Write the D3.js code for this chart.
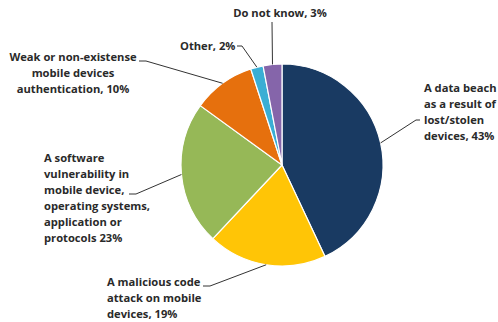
<!DOCTYPE html>
<meta charset="utf-8">
<script src="https://cdn.jsdelivr.net/npm/d3@7"></script>
<head>
<style>
    body { margin: 0; background: #fff; }
    text { font-family: "Open Sans", sans-serif; font-weight: 700; font-size: 11.2px; fill: #2a2a2a; }
</style>
</head>
<body>
<script>

    // slices, clockwise from 12 o'clock
    var categories = ["A data beach as a result of lost/stolen devices",
                      "A malicious code attack on mobile devices",
                      "A software vulnerability in mobile device, operating systems, application or protocols",
                      "Weak or non-existense mobile devices authentication",
                      "Other",
                      "Do not know"];
    var values = [43, 19, 23, 10, 2, 3];
    var colors = ["#193a62", "#ffc506", "#96b857", "#e6700d", "#3aaed4", "#8565aa"];

    // label text as it is wrapped in the picture
    var labelLines = [
        ["A data beach", "as a result of", "lost/stolen", "devices, 43%"],
        ["A malicious code", "attack on mobile", "devices, 19%"],
        ["A software", "vulnerability in", "mobile device,", "operating systems,", "application or", "protocols 23%"],
        ["Weak or non-existense", "mobile devices", "authentication, 10%"],
        ["Other, 2%"],
        ["Do not know, 3%"]
    ];

    var width = 498, height = 322;
    var cx = 282, cy = 165, radius = 101;
    var lineH = 16;

    // label layout: text origin, alignment, and where the leader leaves the text
    var labelLayout = [
        {x: 424, y: 92,  anchor: "start",  lead: [[416, 120], [420, 120]]},
        {x: 107, y: 286, anchor: "start",  lead: [[210, 286], [203, 286]]},
        {x: 44,  y: 162, anchor: "start",  lead: [[136, 194], [129, 194]]},
        {x: 73,  y: 61,  anchor: "middle", lead: [[146, 61], [139, 61]]},
        {x: 180, y: 50,  anchor: "start",  lead: [[242, 46], [237, 46]]},
        {x: 280, y: 17,  anchor: "middle", lead: [[272, 22]]}
    ];

    var svg = d3.select("body").append("svg")
        .attr("width", width)
        .attr("height", height);

    var pie = d3.pie().sort(null).value(function(d) { return d; });
    var arcs = pie(values);

    var arc = d3.arc().innerRadius(0).outerRadius(radius);

    var g = svg.append("g")
        .attr("transform", "translate(" + cx + "," + cy + ")");

    g.selectAll(".slice")
        .data(arcs)
        .enter()
        .append("path")
        .attr("class", "slice")
        .attr("d", arc)
        .style("fill", function(d, i) { return colors[i]; })
        .style("stroke", "#fff")
        .style("stroke-width", 1.2);

    // leader lines: from the slice's mid-angle on the rim to the label
    var line = d3.line();
    svg.selectAll(".leader")
        .data(arcs)
        .enter()
        .append("path")
        .attr("class", "leader")
        .attr("d", function(d, i) {
            var a = (d.startAngle + d.endAngle) / 2;
            var rim = [cx + Math.sin(a) * radius, cy - Math.cos(a) * radius];
            return line([rim].concat(labelLayout[i].lead));
        })
        .style("fill", "none")
        .style("stroke", "#333")
        .style("stroke-width", 1);

    var labels = svg.selectAll(".label")
        .data(labelLines)
        .enter()
        .append("text")
        .attr("class", "label")
        .attr("text-anchor", function(d, i) { return labelLayout[i].anchor; });

    labels.selectAll("tspan")
        .data(function(d, i) { return d.map(function(t) { return {t: t, i: i}; }); })
        .enter()
        .append("tspan")
        .attr("x", function(d) { return labelLayout[d.i].x; })
        .attr("y", function(d, j) { return labelLayout[d.i].y + j * lineH; })
        .text(function(d) { return d.t; });

</script>
</body>
</html>
